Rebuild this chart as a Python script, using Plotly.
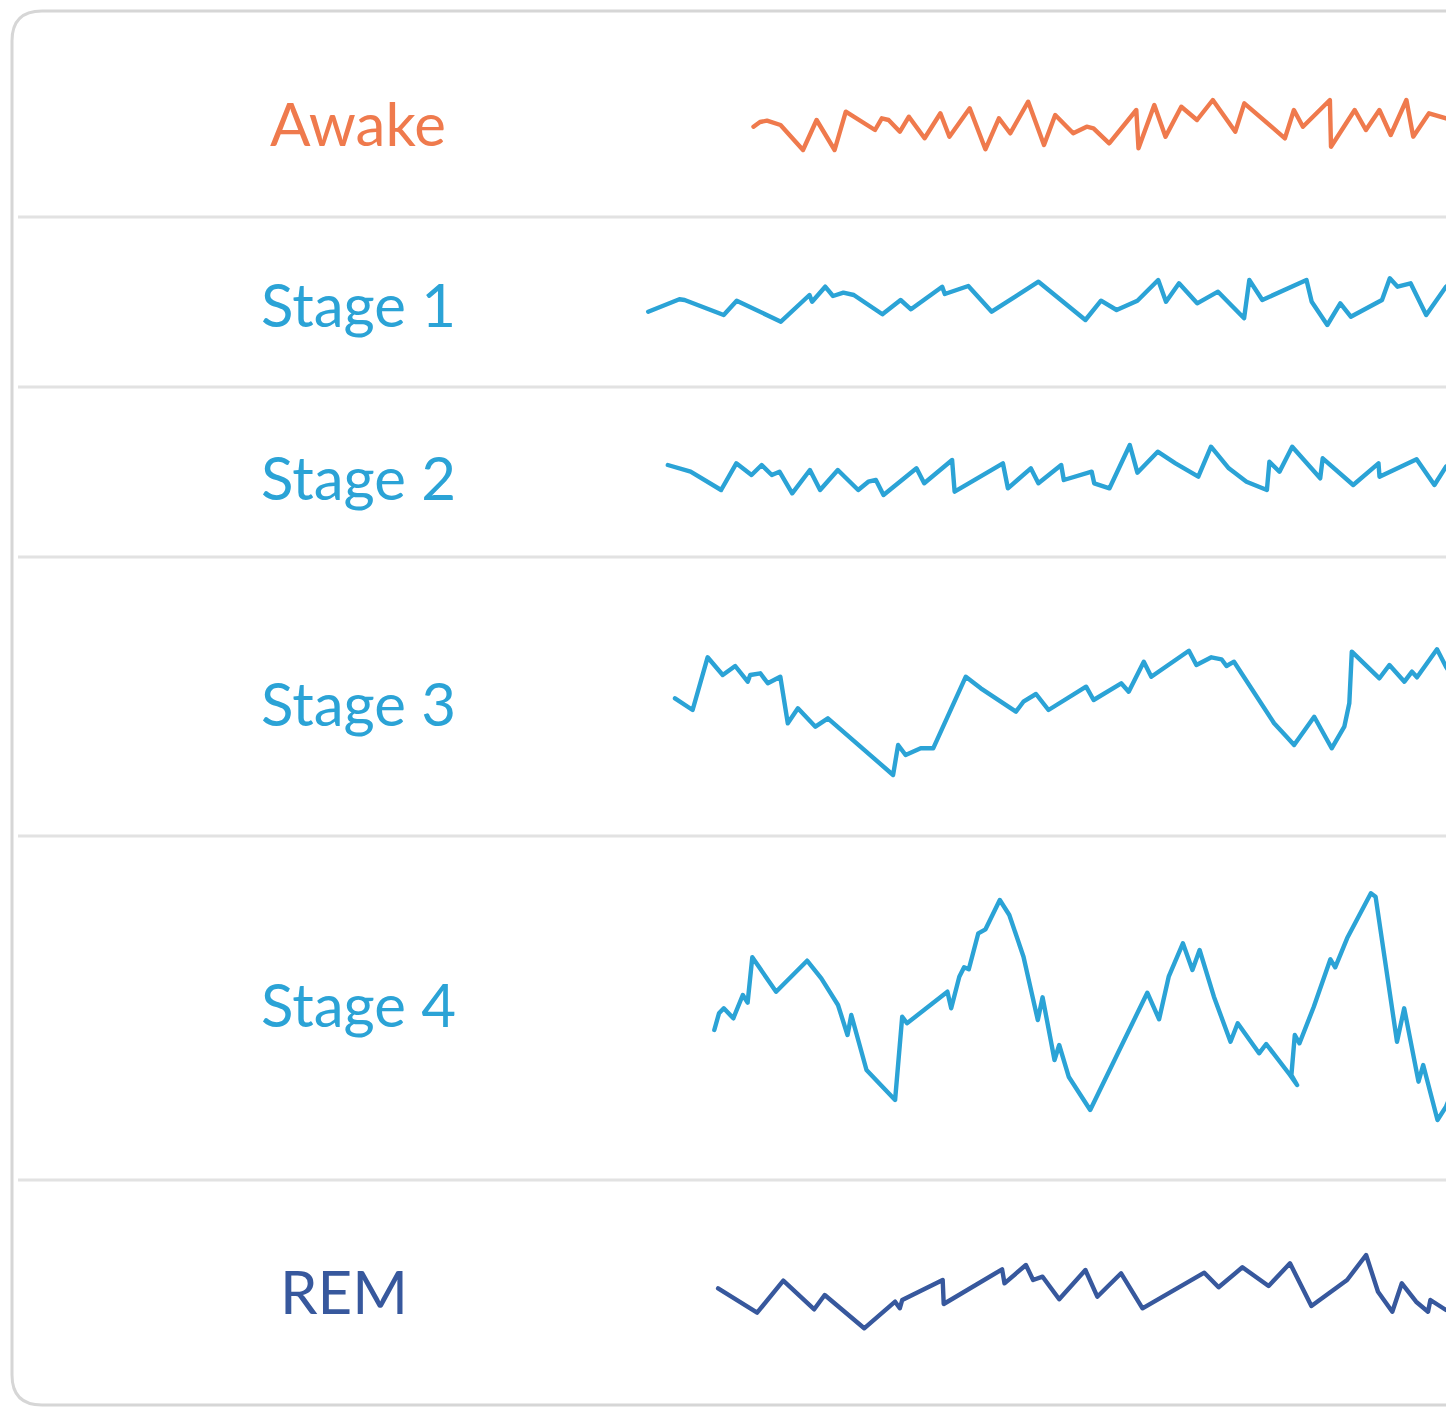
import plotly.graph_objects as go

W, H = 1446, 1409

# ---------------- data ----------------
stages = ["Awake", "Stage 1", "Stage 2", "Stage 3", "Stage 4", "REM"]
colors = ["#EF7A4D", "#2BA3D6", "#2BA3D6", "#2BA3D6", "#2BA3D6", "#37589D"]

awake_t = [113.5, 120, 127, 140.5, 163, 176.6, 194.6, 205.8, 235, 241.8, 248.6, 259.9, 268.9, 284.6, 300.4,
           309.4, 329.7, 345.4, 358.9, 370.2, 388.2, 404, 415.2, 433.2, 446.7, 453.5, 469.2, 496.3, 498.5,
           514.3, 525.5, 541.3, 557, 572.8, 595.3, 604.3, 644.9, 653.9, 662.9, 689.9, 691, 714.7, 725.9,
           739.4, 750.7, 766.4, 773.2, 789, 806, 820]
awake_v = [-1.7, 3, 4.3, 0, -25, 5, -25, 13.3, -5, 6.7, 5, -6.7, 8.3, -13.3, 11.7,
           -11.7, 16.7, -24.3, 6.7, -8.3, 23.3, -20, 10, -8.3, -1.7, -3.3, -18.3, 15, -23.3,
           20, -11.7, 18.3, 5, 25, -6.7, 21.7, -13.3, 15, -1.7, 25, -21.7, 15, -5,
           15, -10, 25, -11.7, 11.7, 6.7, 0]

stage1_t = [8.2, 39.4, 44.6, 83.7, 96.7, 140.9, 169.5, 172.1, 185.2, 193, 203.4, 213.8, 242.4, 260.6,
            271, 302.2, 304.8, 328.3, 351.7, 398.5, 445.4, 461, 476.6, 497.4, 518.2, 526, 539, 557.2,
            578, 604.1, 609.3, 622.3, 666.5, 671.7, 687.3, 700.3, 710.8, 742, 749.8, 757.6, 770.6,
            786.2, 806, 820]
stage1_v = [-6.7, 5.7, 5, -10, 4.3, -16.7, 10, 3.3, 18.3, 9, 12.3, 10, -9.3, 5,
            -4.3, 18.3, 11, 19, -6.7, 23.3, -15, 4.3, -5, 4.3, 25, 3.3, 21.7, 1.7,
            13.3, -13.3, 25, 5, 25, 3.3, -20, 1.7, -11.7, 5, 26.7, 18.3, 21.7,
            -10, 18.3, 28]

stage2_t = [27.8, 50.6, 81.1, 96.3, 111.5, 121.7, 131.8, 139.5, 152.2, 169.9, 180.1, 197.8, 218.2,
            228.3, 235.9, 243.5, 276.5, 284.2, 312.1, 314.6, 362.9, 367.9, 390.8, 398.4, 421.2, 423.8,
            451.7, 454.2, 469.5, 489.8, 497.4, 517.7, 535.5, 558.3, 571, 588.8, 606.5, 626.9, 629.4,
            639.5, 652.2, 680.2, 682.7, 713.2, 738.5, 739.5, 776.6, 794.4, 806, 820]
stage2_v = [13, 6.3, -12, 14.7, 3, 13, 3, 6.3, -15.3, 8, -12, 8, -12,
            -3.7, -2, -17, 9.7, -5.3, 18, -13.7, 14.7, -10.3, 9.7, -5.3, 13, -2,
            6.3, -5.3, -10.3, 33, 5.3, 26.3, 14.7, 1.3, 31.3, 9.7, -3.7, -12, 16.3,
            6.3, 31.3, -0.3, 19.7, -7, 14.7, 1.3, 18.7, -7, 11.3, 20]

stage3_t = [35, 52.6, 67.6, 82.7, 95.2, 107.7, 110.2, 120.3, 127.8, 140.3, 147.8, 157.9, 175.4, 187.9,
            253.1, 258.1, 265.6, 280.7, 293.2, 325.8, 340.8, 375.9, 383.4, 396, 408.5, 446.1, 453.6,
            481.2, 488.7, 503.8, 511.3, 548.9, 556.4, 571.4, 581.5, 586.5, 594, 634.1, 646.6, 654.1,
            674.2, 691.7, 704.3, 709.3, 711.8, 721.8, 739.4, 749.4, 764.4, 772, 777, 797, 806, 815]
stage3_v = [1.7, -10, 42.7, 25, 34, 18.3, 25, 26.7, 16.7, 23.3, -23.3, -8.3, -26.7, -18.3,
            -75, -45, -55, -48.3, -48.3, 23.3, 11.7, -11.7, -1.7, 6, -10, 13.3, 0,
            16.7, 8.3, 38.3, 23.3, 49.3, 35, 42.7, 40.7, 34, 38.3, -23.3, -36.7, -45,
            -16.7, -48.3, -26.7, -3.3, 48.3, 38.3, 21.7, 35, 18.3, 28.3, 22.7, 50.7, 33.3, 20]

stage4_t = [74.3, 79, 83.8, 93.3, 102.8, 107.6, 112.3, 136.1, 167.1, 181.3, 198, 207.5, 211.3, 224.2,
            226.5, 255.1, 262.2, 267, 307.4, 311.2, 319.3, 324.1, 328.8, 338.3, 345.5, 359.8, 369.3,
            383.5, 397.8, 402.6, 414.5, 419.2, 428.7, 450.2, 507.3, 519.1, 528.7, 542.9, 552.4, 559.6,
            573.9, 590.5, 597.7, 619.1, 626.2, 650, 657.1, 651.4, 654.8, 659.5, 673.8, 690.4, 695.2,
            707.1, 730.9, 735.6, 757, 764.2, 778.5, 783.2, 797.5, 806, 815]
stage4_v = [-25, -8.3, -3.3, -13.3, 10, 2.3, 47.7, 13.3, 44.3, 26.7, 0, -30, -10, -60,
            -65, -95, -11.7, -18.3, 13.3, -3.3, 28.3, 37.7, 35.7, 71.7, 75.7, 105, 90,
            48.3, -15, 7.7, -55, -40, -71.7, -105, 12.3, -14.3, 28.3, 61.7, 35, 55,
            8.3, -36.7, -18.3, -48.3, -39, -70, -80, -70, -30, -38.3, -1.7, 45.7, 37.7,
            66.7, 111.7, 108.3, -36.7, -3.3, -76.7, -60, -115, -101.7, -80]

rem_t = [78.1, 117.1, 143.3, 174.2, 184.7, 224.2, 255.1, 259.8, 262.2, 302.7, 303.7, 362.1, 364.5,
         385.9, 393.1, 402.6, 419.2, 445.4, 457.3, 481.1, 502.5, 564.3, 578.6, 602.4, 628.6, 650,
         671.4, 707.1, 726.1, 738, 752.3, 761.8, 776.1, 788, 790.4, 806, 815]
rem_v = [4.7, -19.7, 12.3, -16.3, -2, -35.3, -8.7, -15.3, -7, 13, -11, 23.7, 9.7,
         28, 13, 16.3, -6.3, 23, -3.7, 19.7, -15.3, 20.3, 5.7, 25.7, 7, 29.7,
         -13, 13, 38, 1.3, -18.7, 9.7, -8.7, -18.7, -7, -17, -10]

series_t = [awake_t, stage1_t, stage2_t, stage3_t, stage4_t, rem_t]
series_v = [awake_v, stage1_v, stage2_v, stage3_v, stage4_v, rem_v]

# ---------------- layout constants (pixels) ----------------
band_top = [12, 217, 387, 557, 836, 1180]
band_bot = [217, 387, 557, 836, 1180, 1405]
centers = [125, 305, 478, 700, 1005, 1293]
label_x = [268, 259, 259, 259, 259, 278]
label_y = [123, 304, 477, 703, 1004, 1291]
dividers = [217, 387, 557, 836, 1180]

fig = go.Figure()
layout = dict(
    width=W, height=H, margin=dict(l=0, r=0, t=0, b=0),
    paper_bgcolor="white", plot_bgcolor="rgba(0,0,0,0)", showlegend=False,
    xaxis=dict(range=[-640, W - 640], domain=[0, 1], visible=False, fixedrange=True),
    xaxis7=dict(range=[0, W], domain=[0, 1], visible=False, anchor="y7", overlaying="x"),
    yaxis7=dict(range=[H, 0], domain=[0, 1], visible=False, anchor="x7"),
)

for i in range(6):
    ax = "yaxis" if i == 0 else f"yaxis{i + 1}"
    layout[ax] = dict(
        domain=[1 - band_bot[i] / H, 1 - band_top[i] / H],
        range=[centers[i] - band_bot[i], centers[i] - band_top[i]],
        visible=False, anchor="x", fixedrange=True,
    )
    fig.add_trace(go.Scatter(
        x=series_t[i], y=series_v[i], mode="lines",
        xaxis="x", yaxis="y" if i == 0 else f"y{i + 1}",
        line=dict(color=colors[i], width=4.4),
        hoverinfo="skip",
    ))

fig.update_layout(**layout)

# card outline (rounded corners on the left)
r = 30
path = (f"M {W + 20},11 L {12 + r},11 Q 12,11 12,{11 + r} "
        f"L 12,{1405 - r} Q 12,1405 {12 + r},1405 L {W + 20},1405")
shapes = [dict(type="path", path=path, xref="x7", yref="y7",
               line=dict(color="#D6D6D6", width=3), layer="below")]
for y in dividers:
    shapes.append(dict(type="line", x0=18, x1=W + 10, y0=y, y1=y, xref="x7", yref="y7",
                       line=dict(color="#E2E2E2", width=3), layer="below"))
fig.update_layout(shapes=shapes)

anns = []
for i, s in enumerate(stages):
    anns.append(dict(text=s, x=label_x[i], y=label_y[i], xref="x7", yref="y7",
                     xanchor="left", yanchor="middle", showarrow=False,
                     font=dict(family="Lato", size=60, color=colors[i])))
fig.update_layout(annotations=anns)

fig.write_html(
    "out.html",
    config={"displayModeBar": False},
    post_script="document.body.style.margin='0';document.body.style.overflow='hidden';"
                "document.querySelectorAll('.scatterlayer path.js-line').forEach(function(p){"
                "p.style.strokeLinejoin='round';p.style.strokeLinecap='round';});",
)
